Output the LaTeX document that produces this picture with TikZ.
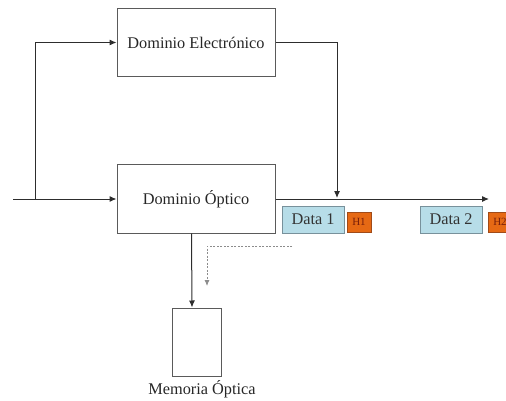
\documentclass[tikz,border=0pt]{standalone}
\usepackage{fontspec}
\setmainfont{Liberation Serif}
\usetikzlibrary{arrows.meta}

\definecolor{linegray}{RGB}{45,45,45}
\definecolor{boxgray}{RGB}{90,90,90}
\definecolor{databg}{RGB}{183,221,232}
\definecolor{databd}{RGB}{120,145,155}
\definecolor{hdrbg}{RGB}{230,105,20}
\definecolor{hdrbd}{RGB}{160,75,25}
\definecolor{hdrtxt}{RGB}{120,30,10}

\begin{document}
\begin{tikzpicture}[x  = 1pt,
                    y  = -1pt,
                    dominio/.style  = {draw=boxgray, line width=1pt, minimum width=158pt,
                                       minimum height=68pt, inner sep=0pt, text=black!85,
                                       font=\fontsize{16.3}{19}\selectfont},
                    datos/.style    = {draw=databd, fill=databg, line width=0.8pt, minimum width=62pt,
                                       minimum height=27pt, inner sep=0pt, text=black!80,
                                       font=\fontsize{16.3}{19}\selectfont},
                    cabecera/.style = {draw=hdrbd, fill=hdrbg, line width=0.6pt, minimum width=24pt,
                                       minimum height=20pt, inner sep=0pt, text=hdrtxt,
                                       font=\fontsize{11}{13}\selectfont},
                    flecha/.style   = {draw=linegray, line width=1pt, -{Latex[length=7pt,width=6pt]}},
                    retorno/.style  = {draw=black!45, line width=0.8pt, dash pattern=on 2pt off 1.5pt,
                                       -{Latex[length=6pt,width=5pt]}}]

\useasboundingbox (0,0) rectangle (506,401);

% bloques
\node[dominio] (electronico) at (196,42.5) {Dominio Electrónico};
\node[dominio] (optico) at (196,199) {Dominio Óptico};
\node[draw=boxgray, line width=1pt, minimum width=49pt, minimum height=68pt, inner sep=0pt]
  (memoria) at (196.5,342) {};
\node[text=black!85, font=\fontsize{16.3}{19}\selectfont] (etiqueta) at (202,389) {Memoria Óptica};

% paquetes
\node[datos] (data1) at (313,219.5) {Data 1};
\node[cabecera] (h1) at (359,222) {H1};
\node[datos] (data2) at (451,219.5) {Data 2};
\node[cabecera] (h2) at (500,222) {H2};

% puntos
\coordinate (entrada) at (13,199);
\coordinate (ramal) at (35,199);
\coordinate (salida) at (489,199);
\coordinate (union) at (337,198);
\coordinate (vuelta) at (292,246);
\coordinate (bajada) at (207,286);

% conexiones
\draw[flecha] (entrada) -- (optico.west);
\draw[flecha] (ramal) |- (electronico.west);
\draw[flecha] (optico.east) -- (salida);
\draw[flecha] (electronico.east) -| (union);
\draw[flecha] ([xshift=-4.5pt]optico.south) -- ([xshift=-4.5pt]memoria.north);
\draw[retorno] (vuelta) -| (bajada);

\end{tikzpicture}
\end{document}
